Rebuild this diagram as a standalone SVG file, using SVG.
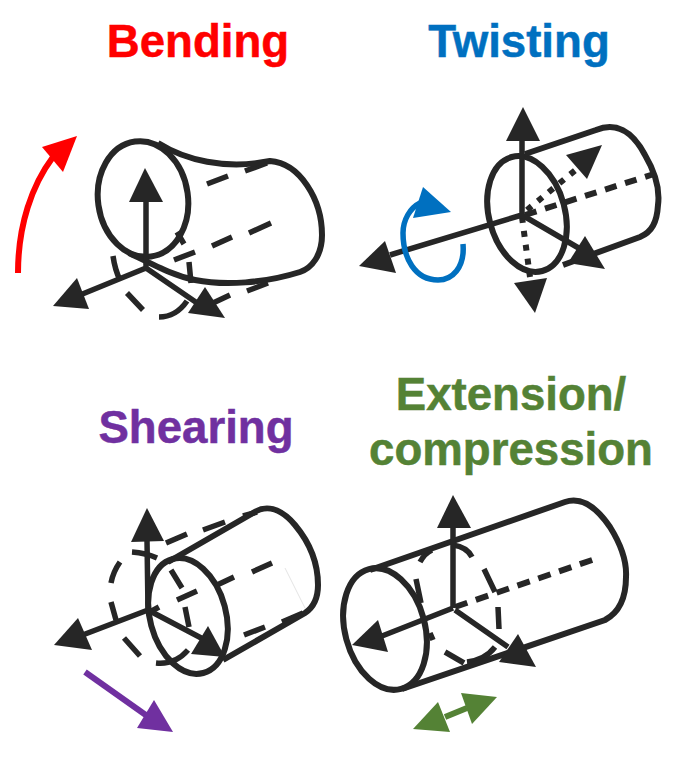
<svg xmlns="http://www.w3.org/2000/svg" width="691" height="760" viewBox="0 0 691 760">
<style>
.t{font-family:"Liberation Sans",Arial,sans-serif;font-weight:700;font-size:45.6px;text-anchor:middle;stroke-width:.5px}
.s{fill:none;stroke:#262626;stroke-width:6}
.a{fill:none;stroke:#262626;stroke-width:5.5}
.d{fill:none;stroke:#262626;stroke-width:5.5}
.h{fill:#262626}
</style>
<rect width="691" height="760" fill="#fff"/>
<text class="t" x="198" y="57" fill="#ff0000" stroke="#ff0000">Bending</text>
<text class="t" x="519" y="57" fill="#0070c0" stroke="#0070c0">Twisting</text>
<text class="t" x="196" y="443" fill="#7030a0" stroke="#7030a0">Shearing</text>
<text class="t" x="511" y="410" fill="#548235" stroke="#548235">Extension/</text>
<text class="t" x="511" y="465" fill="#548235" stroke="#548235">compression</text>

<g id="bending">
<path class="d" d="M207,184L228,176M245,171L267,163M174,260L195,252M212,246L232,237M249,233L271,223M213,303L230,295M247,291L268,283M177,232L184,244M189,262L191,283M113,256Q115,270 120,280M127,293L143,310M159,317Q176,317 187,301"/>
<ellipse class="s" cx="143" cy="199" rx="45" ry="58" transform="rotate(-8 143 199)"/>
<path class="s" d="M158,143C185,160 225,170 270,161C300,163 322,200 322,235C322,255 312,268 300,272C265,283 225,286 195,280C175,276 160,268 129,253"/>
<path class="a" d="M146,268L146,200M146,268L80,295M146,268L200,305"/>
<polygon class="h" points="145,168 129,202 163,202"/>
<polygon class="h" points="53,306 77,278 89,309"/>
<polygon class="h" points="225,318 205,287 188,313"/>
<path d="M18,273C18,225 32,185 53,157" fill="none" stroke="#ff0000" stroke-width="6"/>
<polygon fill="#ff0000" points="77,136 42,147 63,172"/>
</g>

<g id="twisting">
<ellipse class="s" cx="527" cy="214" rx="38" ry="59" transform="rotate(-15 527 214)"/>
<path class="s" d="M525,154L596,130C615,122 632,130 645,155C655,172 660,190 658,205C657,222 652,232 640,237L563,265"/>
<path d="M525,215L654,174" fill="none" stroke="#262626" stroke-width="6" stroke-dasharray="12 9"/>
<path d="M527,210L578,168M522,217L530,277" fill="none" stroke="#262626" stroke-width="6" stroke-dasharray="6 8"/>
<path class="a" d="M522,215L522,140M522,215L390,255M522,215L582,250"/>
<polygon class="h" points="523,107 506,141 540,141"/>
<polygon class="h" points="359,266 385,241 396,273"/>
<polygon class="h" points="605,269 585,236 568,263"/>
<polygon class="h" points="602,145 566,155 587,179"/>
<polygon class="h" points="535,313 514,283 547,278"/>
<path d="M463,244C465,268 452,280 438,280C415,280 403,258 403,233C403,220 410,208 420,203" fill="none" stroke="#0070c0" stroke-width="5.5"/>
<polygon fill="#0070c0" points="423,187 451,212 413,218"/>
</g>

<g id="shearing">
<path class="d" d="M120,562Q113,572 111,583M111,602L116,620M124,638L140,656M156,663Q175,665 188,650M132,552Q146,553 157,558M171,570L182,588M185,607L189,627M166,543L187,534M203,530L225,522M243,516L257,512M177,600L197,591M217,585L234,577M252,572L272,563M244,635L265,627M282,622L303,613M148,613L159,607"/>
<ellipse class="s" cx="188" cy="616" rx="38" ry="59" transform="rotate(-15 188 616)"/>
<path class="s" d="M168,562L253,513C265,505 280,507 295,525C310,543 318,562 318,585C318,598 314,607 305,613L223,660"/>
<path d="M285,568L305,608" fill="none" stroke="#d8d8d8" stroke-width="0.7"/>
<path class="a" d="M148,610L147,540M148,610L80,636M148,610L205,640"/>
<polygon class="h" points="147,508 131,542 164,541"/>
<polygon class="h" points="54,645 78,618 92,650"/>
<polygon class="h" points="225,657 208,626 191,654"/>
<path d="M85,672L150,718" fill="none" stroke="#7030a0" stroke-width="6"/>
<polygon fill="#7030a0" points="173,732 154,700 137,728"/>
</g>

<g id="extension">
<path class="d" d="M420,562Q425,553 432,550M453,545Q467,547 472,557M484,569L495,592M498,607L499,629M495,647Q485,660 467,662M445,652L464,663M416,579L421,603M430,633L433,640"/>
<ellipse class="s" cx="385" cy="629" rx="40" ry="62" transform="rotate(-15 385 629)"/>
<path class="s" d="M370,570L565,502C580,497 595,505 610,527C620,543 627,560 626,577C626,598 620,612 605,620L402,689"/>
<path d="M455,607L598,558" fill="none" stroke="#262626" stroke-width="6" stroke-dasharray="13 9"/>
<path class="a" d="M453,608L453,525M453,608L382,636M455,610L508,647"/>
<polygon class="h" points="453,495 437,528 471,528"/>
<polygon class="h" points="352,645 378,620 388,652"/>
<polygon class="h" points="536,667 518,634 499,662"/>
<path d="M445,717L467,708" fill="none" stroke="#548235" stroke-width="6"/>
<polygon fill="#548235" points="413,729 438,702 450,732"/>
<polygon fill="#548235" points="497,697 461,693 472,724"/>
</g>
</svg>
